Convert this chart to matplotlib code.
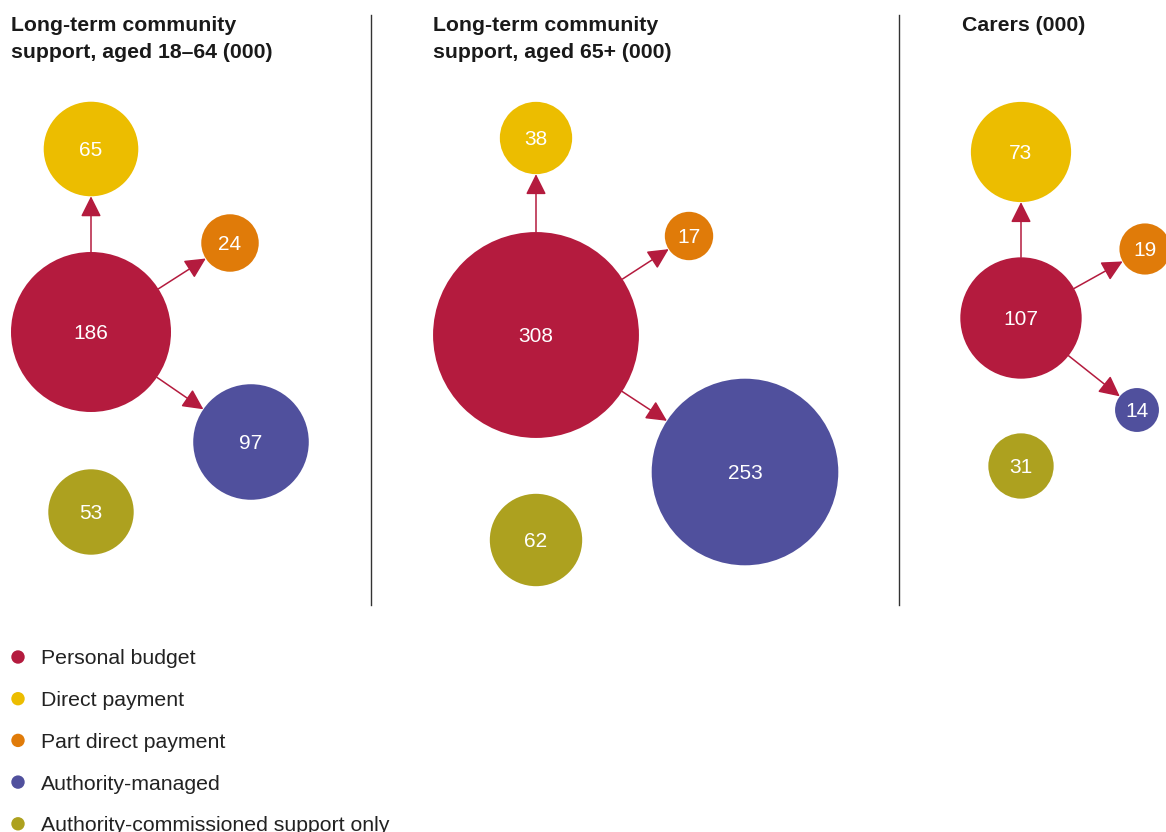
import numpy as np
import matplotlib.pyplot as plt
from matplotlib.patches import Circle, FancyArrowPatch

plt.rcParams["font.family"] = ["Liberation Sans", "DejaVu Sans"]

# values in thousands, per panel
categories = ["Personal budget", "Direct payment", "Part direct payment",
              "Authority-managed", "Authority-commissioned support only"]
panel_titles = [["Long-term community", "support, aged 18–64 (000)"],
                ["Long-term community", "support, aged 65+ (000)"],
                ["Carers (000)"]]
aged_18_64 = [186, 65, 24, 97, 53]
aged_65_plus = [308, 38, 17, 253, 62]
carers = [107, 73, 19, 14, 31]
panel_values = [aged_18_64, aged_65_plus, carers]

# layout (pixel space, y downwards)
W, H = 1166, 832
centres = [
    [(91, 332), (91, 149), (230, 243), (251, 442), (91, 512)],
    [(536, 335), (536, 138), (689, 236), (745, 472), (536, 540)],
    [(1021, 318), (1021, 152), (1145, 249), (1137, 410), (1021, 466)],
]
title_x = [11, 433, 962]
title_baselines = [31, 58]
divider_x = [371, 899]
colors = ["#B41B3E", "#ECBD00", "#E07B09", "#50509D", "#ADA11F"]
scale = 5.866  # px radius per sqrt(thousand)
arrow_color = "#B41B3E"
text_size = 15.3
half_cap = 7.5  # half the cap height in px, to centre digits on a baseline

fig = plt.figure(figsize=(W / 100, H / 100), dpi=100)
ax = fig.add_axes([0, 0, 1, 1])
ax.set_xlim(0, W)
ax.set_ylim(H, 0)
ax.axis("off")

for vals, pos, tx, title in zip(panel_values, centres, title_x, panel_titles):
    radii = [scale * np.sqrt(v) for v in vals]
    for v, (cx, cy), r, c in zip(vals, pos, radii, colors):
        ax.add_patch(Circle((cx, cy), r, color=c, lw=0))
        ax.text(cx, cy + half_cap - 0.5, str(v), color="white", fontsize=15,
                ha="center", va="baseline")
    # personal budget feeds direct, part direct and authority-managed
    (x0, y0), r0 = pos[0], radii[0]
    for (x1, y1), r1 in zip(pos[1:4], radii[1:4]):
        d = np.hypot(x1 - x0, y1 - y0)
        ux, uy = (x1 - x0) / d, (y1 - y0) / d
        ax.add_patch(FancyArrowPatch(
            (x0 + r0 * ux, y0 + r0 * uy), (x1 - r1 * ux, y1 - r1 * uy),
            arrowstyle="-|>,head_length=0.9,head_width=0.45",
            mutation_scale=14, color=arrow_color, lw=1.1,
            shrinkA=0, shrinkB=0))
    for line, by in zip(title, title_baselines):
        ax.text(tx, by, line, fontsize=text_size, fontweight="bold",
                va="baseline", ha="left", color="#1a1a1a")

for x in divider_x:
    ax.plot([x, x], [15, 605], color="#333333", lw=1)

for i, (lab, c) in enumerate(zip(categories, colors)):
    y = 657 + i * 41.7
    ax.add_patch(Circle((18, y), 6.7, color=c, lw=0))
    ax.text(41, y + half_cap, lab, fontsize=text_size, va="baseline",
            ha="left", color="#222222")

fig.savefig("out.png", dpi=100)
